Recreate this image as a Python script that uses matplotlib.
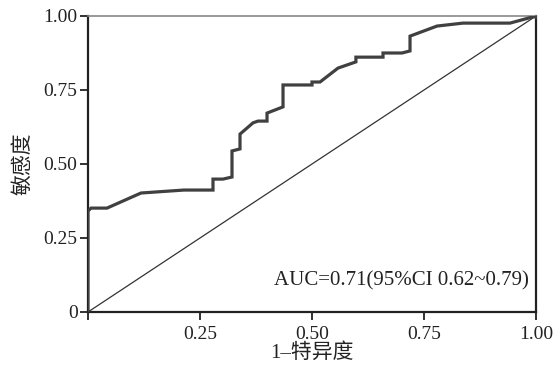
import matplotlib
matplotlib.use("Agg")
import matplotlib.pyplot as plt

plt.rcParams['font.family'] = ['Liberation Serif', 'Noto Sans CJK SC', 'DejaVu Sans']

fpr = [0.0, 0.0, 0.0067, 0.0424, 0.1183, 0.2143, 0.279, 0.279, 0.3013, 0.3214, 0.3214,
       0.3393, 0.3393, 0.3683, 0.3795, 0.3996, 0.3996, 0.4353, 0.4353, 0.5, 0.5,
       0.5179, 0.558, 0.598, 0.598, 0.6585, 0.6585, 0.7009, 0.7188, 0.7188, 0.779,
       0.837, 0.942, 0.993, 1.0]
tpr = [0.0, 0.341, 0.351, 0.351, 0.402, 0.412, 0.412, 0.449, 0.449, 0.456, 0.544,
       0.551, 0.601, 0.639, 0.645, 0.645, 0.672, 0.693, 0.767, 0.767, 0.777,
       0.777, 0.824, 0.845, 0.861, 0.861, 0.875, 0.875, 0.882, 0.932, 0.966,
       0.976, 0.976, 0.997, 1.0]

xticks = [0, 0.25, 0.5, 0.75, 1.0]
xticklabels = ['', '0.25', '0.50', '0.75', '1.00']
yticks = [0, 0.25, 0.5, 0.75, 1.0]
yticklabels = ['0', '0.25', '0.50', '0.75', '1.00']
auc_text = 'AUC=0.71(95%CI 0.62~0.79)'

fig = plt.figure(figsize=(5.58, 3.70), dpi=100)
ax = fig.add_axes([88/558, 1 - 312/370, 448/558, 296/370])

ax.plot([0, 1], [0, 1], color='#333333', lw=0.9, zorder=2)
ax.plot(fpr, tpr, color='#404040', lw=2.3, solid_joinstyle='miter', zorder=3)
ax.plot([1.0], [1.0], 'o', color='#404040', ms=3, zorder=4)

ax.set_xlim(0, 1)
ax.set_ylim(0, 1)
ax.set_xticks(xticks)
ax.set_xticklabels(xticklabels)
ax.set_yticks(yticks)
ax.set_yticklabels(yticklabels)
ax.tick_params(direction='out', length=6, width=1.3, color='#222222', labelsize=14, pad=1.5,
               labelcolor='#222222')
ax.tick_params(axis='x', pad=4)

for s in ['left', 'bottom', 'right']:
    ax.spines[s].set_linewidth(1.6)
    ax.spines[s].set_color('#222222')
ax.spines['top'].set_linewidth(1.2)
ax.spines['top'].set_color('#888888')

ax.set_xlabel('1–特异度', fontsize=15, labelpad=0, color='#222222')
ax.set_ylabel('敏感度', fontsize=15, labelpad=7, color='#222222')

ax.text(0.985, 0.104, auc_text, transform=ax.transAxes, ha='right', va='center',
        fontsize=15, color='#222222')

fig.savefig('out.png', dpi=100)
